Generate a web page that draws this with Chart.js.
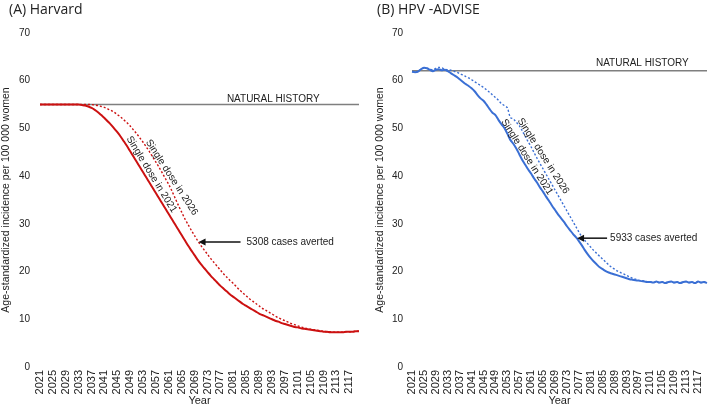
<!DOCTYPE html>
<html>
<head>
<meta charset="utf-8">
<script src="https://cdn.jsdelivr.net/npm/chart.js@4.4.1/dist/chart.umd.min.js"></script>
<style>
  body { margin: 0; background: #fff; }
  #wrap { position: relative; width: 709px; height: 408px; overflow: hidden; }
  canvas { position: absolute; top: 0; }
  #chartA { left: 0; }
  #chartB { left: 355px; }
</style>
</head>
<body>
<div id="wrap">
  <canvas id="chartA" width="360" height="408"></canvas>
  <canvas id="chartB" width="354" height="408"></canvas>
</div>
<script>
// years 2021..2120, one value per year
const years = Array.from({ length: 100 }, (_, i) => String(2021 + i))
const xTickLabels = ['2021','2025','2029','2033','2037','2041','2045','2049','2053','2057','2061','2065','2069','2073','2077','2081','2085','2089','2093','2097','2101','2105','2109','2113','2117']
const yTicks = [0, 10, 20, 30, 40, 50, 60, 70]

// (A) Harvard
const harvardNatural = 55
const harvardDose2021 = [
  55,55,55,55,55,55,55,55,55,55,
  55,55,55,54.9,54.8,54.6,54.3,53.9,53.4,52.8,
  52.2,51.5,50.8,50.0,49.2,48.3,47.3,46.3,45.2,44.1,
  43.0,41.9,40.8,39.7,38.6,37.5,36.4,35.3,34.2,33.1,
  32.0,30.9,29.8,28.7,27.6,26.5,25.4,24.4,23.4,22.4,
  21.5,20.7,19.9,19.1,18.4,17.7,17.0,16.4,15.8,15.2,
  14.7,14.2,13.7,13.2,12.8,12.4,12.0,11.6,11.2,10.9,
  10.6,10.3,10.0,9.7,9.5,9.2,9.0,8.8,8.6,8.4,
  8.3,8.1,8.0,7.9,7.8,7.7,7.6,7.5,7.4,7.4,
  7.3,7.3,7.3,7.3,7.3,7.4,7.4,7.4,7.5,7.5
]
const harvardDose2026 = [
  55,55,55,55,55,55,55,55,55,55,
  55,55,55,55,55,55,55,54.9,54.8,54.6,
  54.4,54.1,53.8,53.4,52.9,52.4,51.8,51.2,50.5,49.7,
  48.9,48.0,47.1,46.1,45.1,44.0,42.9,41.8,40.6,39.4,
  38.2,36.8,35.3,33.8,32.4,31.0,29.8,28.6,27.5,26.4,
  25.4,24.5,23.6,22.7,21.9,21.1,20.3,19.5,18.8,18.1,
  17.5,16.8,16.1,15.5,14.9,14.3,13.8,13.3,12.8,12.3,
  11.9,11.5,11.1,10.7,10.3,10.0,9.7,9.4,9.1,8.9,
  8.6,8.4,8.2,8.0,7.9,7.8,7.7,7.6,7.5,7.4,
  7.4,7.3,7.3,7.3,7.3,7.4,7.4,7.4,7.5,7.5
]

// (B) HPV-ADVISE
const adviseNatural = 62.1
const adviseDose2021 = [
  61.9,61.8,61.9,62.4,62.7,62.6,62.3,62.0,62.3,62.4,
  62.2,62.3,62.0,61.6,61.2,60.8,60.3,59.8,59.3,58.9,
  58.4,57.8,57.0,56.3,55.8,55.0,54.1,53.3,52.8,51.8,
  50.9,50.1,48.9,47.6,46.8,45.8,44.6,43.4,42.4,41.4,
  40.5,39.5,38.6,37.6,36.7,35.7,34.8,33.8,32.9,32.0,
  31.2,30.4,29.5,28.7,27.9,27.2,26.4,25.5,24.5,23.6,
  22.8,22.1,21.5,20.9,20.5,20.1,19.8,19.6,19.4,19.2,
  19.0,18.8,18.6,18.4,18.3,18.2,18.1,18.0,17.9,17.8,
  17.8,17.7,17.9,17.7,17.8,17.6,17.8,17.9,17.7,17.8,
  17.6,17.8,17.9,17.7,17.8,17.6,17.9,17.7,17.8,17.6
]
const adviseDose2026 = [
  61.9,61.8,61.9,62.4,62.7,62.6,62.4,62.3,62.6,62.8,
  62.7,62.4,62.3,62.2,62.0,61.8,61.5,61.2,60.9,60.6,
  60.2,59.8,59.4,59.0,58.6,58.1,57.6,57.0,56.5,55.9,
  55.2,54.8,54.3,52.3,52.0,51.3,50.6,49.5,48.3,47.2,
  46.1,44.9,43.7,42.6,41.5,40.4,39.3,38.2,37.1,36.0,
  34.9,33.8,32.7,31.6,30.5,29.4,28.3,27.3,26.5,25.8,
  25.1,24.4,23.8,23.2,22.6,22.0,21.4,20.9,20.5,20.1,
  19.8,19.5,19.2,18.9,18.6,18.4,18.2,18.1,18.0,17.9,
  17.8,17.7,17.9,17.7,17.8,17.6,17.8,17.9,17.7,17.8,
  17.6,17.8,17.9,17.7,17.8,17.6,17.9,17.7,17.8,17.6
]

const textColor = '#222'
const font = '"Liberation Sans", Arial, sans-serif'

// titles, rotated line labels, natural history label and the arrow
const annotate = {
  id: 'annotate',
  afterDatasetsDraw(chart, args, o) {
    const ctx = chart.ctx
    const xs = chart.scales.x, ys = chart.scales.y
    const px = yr => xs.getPixelForValue(yr - 2021)
    const py = v => ys.getPixelForValue(v)
    // where a series sits at a (fractional) year, for anchoring labels
    const onLine = (arr, yr) => {
      const i = Math.floor(yr - 2021), f = yr - 2021 - i
      return arr[i] + (arr[i + 1] - arr[i]) * f
    }
    ctx.save()
    ctx.fillStyle = textColor
    ctx.textBaseline = 'middle'

    ctx.font = '14px "Open Sans", sans-serif'
    ctx.textAlign = 'left'
    ctx.fillText(o.title, o.titleX, 10)

    ctx.font = '10px ' + font
    ctx.textAlign = 'center'
    ctx.fillText('NATURAL HISTORY', px(o.nh.year), py(o.nh.value))

    o.labels.forEach(l => {
      ctx.save()
      ctx.translate(px(l.year), py(onLine(l.series, l.year)))
      ctx.rotate(l.angle * Math.PI / 180)
      ctx.fillText(l.text, 0, -l.off)
      ctx.restore()
    })

    const tx = px(o.arrow.year), ty = py(o.arrow.value)
    const tail = tx + o.arrow.len
    ctx.strokeStyle = '#111'
    ctx.fillStyle = '#111'
    ctx.lineWidth = 1.5
    ctx.beginPath()
    ctx.moveTo(tail, ty)
    ctx.lineTo(tx + 6, ty)
    ctx.stroke()
    ctx.beginPath()
    ctx.moveTo(tx, ty)
    ctx.lineTo(tx + 7, ty - 3.5)
    ctx.lineTo(tx + 7, ty + 3.5)
    ctx.closePath()
    ctx.fill()
    ctx.fillStyle = textColor
    ctx.textAlign = 'left'
    ctx.fillText(o.arrow.text, tail + o.arrow.gap, ty)
    ctx.restore()
  }
}

function makePanel(id, cfg) {
  const natural = [{ x: years[0], y: cfg.natural }, { x: years[years.length - 1], y: cfg.natural }]
  return new Chart(document.getElementById(id), {
    type: 'line',
    data: {
      labels: years,
      datasets: [
        { data: cfg.dose2021, borderColor: cfg.color, borderWidth: 2, order: 1 },
        { data: cfg.dose2026, borderColor: cfg.color, borderWidth: 1.4, borderDash: [2, 2], order: 2 },
        { data: natural, borderColor: '#7f7f7f', borderWidth: 1.5, order: 3 }
      ]
    },
    options: {
      responsive: false,
      animation: false,
      layout: { padding: cfg.padding },
      elements: { point: { radius: 0 }, line: { tension: 0.3 } },
      plugins: {
        legend: { display: false },
        tooltip: { enabled: false },
        annotate: cfg.annot
      },
      scales: {
        x: {
          grid: { display: false, drawTicks: false },
          border: { display: false },
          ticks: {
            autoSkip: false, minRotation: 90, maxRotation: 90, padding: 3,
            color: textColor, font: { size: 11, family: font },
            callback: (v, i) => xTickLabels.includes(years[i]) ? years[i] : ''
          },
          title: { display: true, text: 'Year', color: textColor, padding: 0, font: { size: 11, family: font } },
          afterFit: s => { s.height = 41; s.paddingLeft = 0; s.paddingRight = 0 }
        },
        y: {
          min: 0, max: 70,
          grid: { display: false, drawTicks: false },
          border: { display: false },
          afterBuildTicks: s => { s.ticks = yTicks.map(v => ({ value: v })) },
          ticks: { padding: cfg.tickPad, color: textColor, font: { size: 10, family: font } },
          title: {
            display: true, text: 'Age-standardized incidence per 100 000 women',
            color: textColor, padding: 0, font: { size: 10.5, family: font }
          },
          afterFit: s => { s.width = cfg.yWidth }
        }
      }
    },
    plugins: [annotate]
  })
}

makePanel('chartA', {
  natural: harvardNatural, dose2021: harvardDose2021, dose2026: harvardDose2026,
  color: '#cc1111', padding: { top: 33, right: 1, bottom: 0, left: 0 }, yWidth: 40, tickPad: 10,
  annot: {
    title: '(A) Harvard', titleX: 9,
    nh: { year: 2093.4, value: 56.2 },
    labels: [
      { text: 'Single dose in 2021', series: harvardDose2021, year: 2054.0, angle: 58.5, off: 6 },
      { text: 'Single dose in 2026', series: harvardDose2026, year: 2060.3, angle: 57, off: 6 }
    ],
    arrow: { year: 2070.2, value: 26.2, len: 42, gap: 6, text: '5308 cases averted' }
  }
})

makePanel('chartB', {
  natural: adviseNatural, dose2021: adviseDose2021, dose2026: adviseDose2026,
  color: '#3a6fd4', padding: { top: 33, right: 2, bottom: 0, left: 19 }, yWidth: 38, tickPad: 9,
  annot: {
    title: '(B) HPV -ADVISE', titleX: 22,
    nh: { year: 2098.3, value: 63.7 },
    labels: [
      { text: 'Single dose in 2021', series: adviseDose2021, year: 2058.0, angle: 57.4, off: 5.5 },
      { text: 'Single dose in 2026', series: adviseDose2026, year: 2063.2, angle: 57.4, off: 6.5 }
    ],
    arrow: { year: 2076.4, value: 27.0, len: 30, gap: 3, text: '5933 cases averted' }
  }
})
</script>
</body>
</html>
